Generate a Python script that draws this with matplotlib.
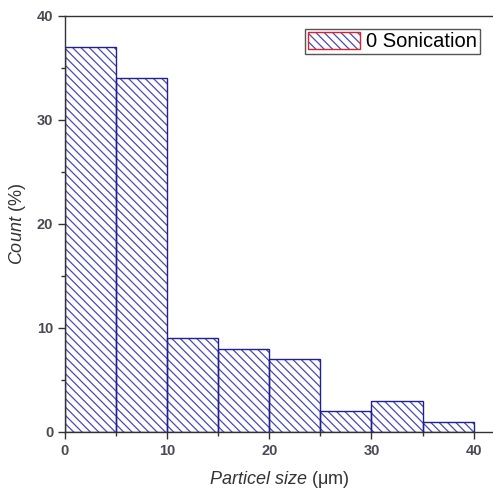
import matplotlib.pyplot as plt
from matplotlib.patches import Patch

plt.rcParams['font.family'] = ['Liberation Sans', 'DejaVu Sans']
plt.rcParams['mathtext.fontset'] = 'custom'
plt.rcParams['mathtext.rm'] = 'Liberation Sans'
plt.rcParams['mathtext.it'] = 'Liberation Sans:italic'
plt.rcParams['hatch.linewidth'] = 0.9

# histogram bins (um) and counts (%)
bin_left = [0, 5, 10, 15, 20, 25, 30, 35]
counts = [37, 34, 9, 8, 7, 2, 3, 1]
bin_width = 5
series_name = '0 Sonication'

hatch_col = '#4a4ab8'
edge_col = '#20208e'
hatch = '\\\\\\\\'

fig = plt.figure(figsize=(4.93, 4.95), dpi=100)
ax = fig.add_axes([0.1318, 0.1273, 0.8682, 0.8404])

# hatch fill, then outline on top
ax.bar(bin_left, counts, width=bin_width, align='edge', facecolor='white',
       edgecolor=hatch_col, linewidth=0, hatch=hatch)
ax.bar(bin_left, counts, width=bin_width, align='edge', fill=False,
       edgecolor=edge_col, linewidth=1.0)

ax.set_xlim(0, 41.9)
ax.set_ylim(0, 40)
ax.set_xticks([0, 10, 20, 30, 40])
ax.set_xticks([5, 15, 25, 35], minor=True)
ax.set_yticks([0, 10, 20, 30, 40])
ax.set_yticks([5, 15, 25, 35], minor=True)
ax.tick_params(which='major', direction='out', length=5, width=1, labelsize=10.5,
               labelcolor='#4a4a55', colors='#333333')
ax.tick_params(which='minor', direction='out', length=3, width=1, colors='#333333')
for lbl in ax.get_xticklabels() + ax.get_yticklabels():
    lbl.set_fontweight('bold')
ax.spines['right'].set_visible(False)
for s in ['left', 'bottom', 'top']:
    ax.spines[s].set_color('#333333')
    ax.spines[s].set_linewidth(1.0)

ax.set_xlabel(r'$\mathit{Particel\ size}$ (μm)', fontsize=13, color='#333333', labelpad=8)
ax.set_ylabel(r'$\mathit{Count}$ (%)', fontsize=13, color='#333333', labelpad=6)

h_fill = Patch(facecolor='white', edgecolor=hatch_col, hatch=hatch, linewidth=0)
h_edge = Patch(fill=False, edgecolor='#e0202a', linewidth=1.0)
leg = ax.legend([(h_fill, h_edge)], [series_name], loc='upper right',
                bbox_to_anchor=(0.970, 0.969),
                fontsize=14.5, fancybox=False, edgecolor='#555555', framealpha=1,
                handlelength=2.6, handleheight=0.9, borderpad=0.15, handletextpad=0.3,
                borderaxespad=0)
leg.get_frame().set_linewidth(1.0)

fig.savefig('out.png', dpi=100)
